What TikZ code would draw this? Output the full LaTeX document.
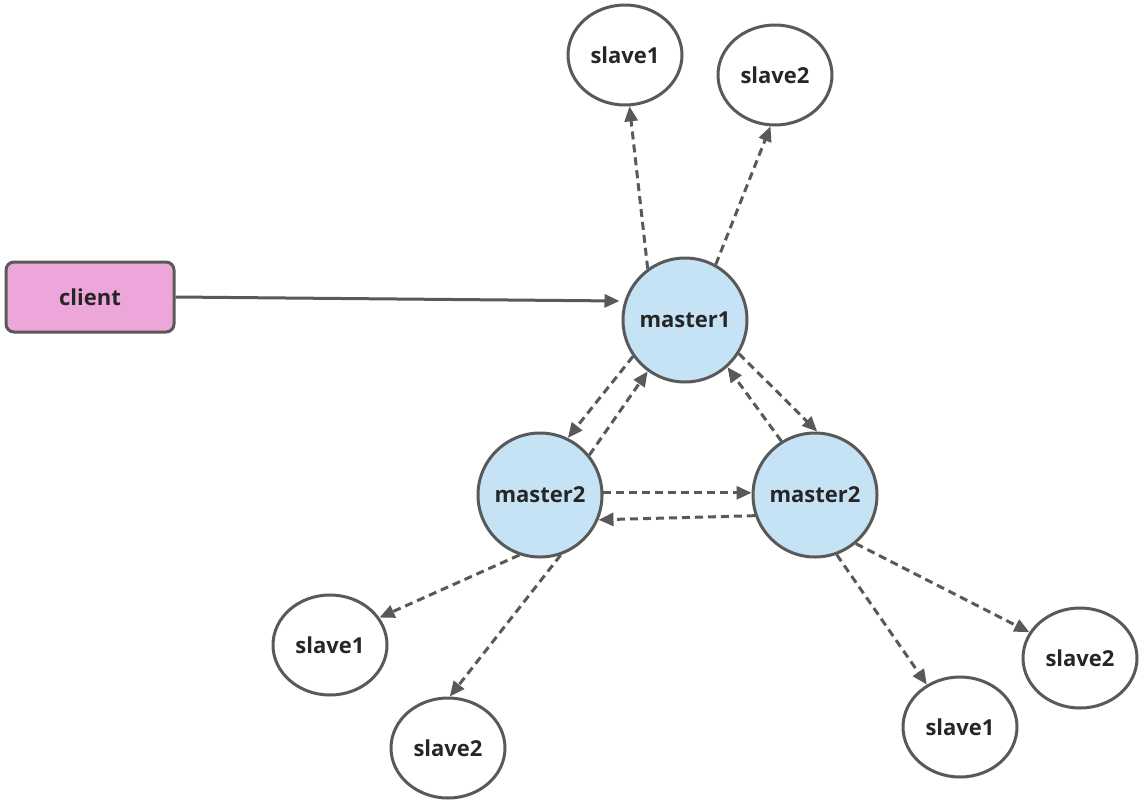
\documentclass[tikz,border=0pt]{standalone}
\usepackage{fontspec}
\setmainfont{Open Sans}
\usetikzlibrary{arrows.meta,shapes.geometric}
\definecolor{ln}{HTML}{595959}
\definecolor{pinkf}{HTML}{EDA6DA}
\definecolor{bluef}{HTML}{C6E3F5}
\begin{document}
\begin{tikzpicture}[x=1pt,y=-1pt,
  every node/.style={font=\fontsize{22}{26}\selectfont\bfseries, text=black!85},
  sl/.style={ellipse, draw=ln, line width=3pt, fill=white, minimum width=114pt, minimum height=100pt, inner sep=0pt},
  ms/.style={circle, draw=ln, line width=3pt, fill=bluef, minimum size=124pt, inner sep=0pt},
  da/.style={draw=ln, line width=3pt, dash pattern=on 8pt off 5pt, -{Triangle[length=15pt,width=13pt]}},
  so/.style={draw=ln, line width=3pt, -{Triangle[length=15pt,width=13pt]}}]
\useasboundingbox (0,0) rectangle (1141,804);
\node[sl] (s1t) at (625,55) {slave1};
\node[sl] (s2t) at (775,75) {slave2};
\node[draw=ln, line width=3pt, fill=pinkf, rounded corners=8pt, minimum width=168pt, minimum height=70pt] (cl) at (90,297) {client};
\node[ms] (m1) at (685,320) {master1};
\node[ms] (m2l) at (540,495) {master2};
\node[ms] (m2r) at (815,495) {master2};
\node[sl] (s1ll) at (330,645) {slave1};
\node[sl] (s2ll) at (448,748) {slave2};
\node[sl] (s1lr) at (960,727) {slave1};
\node[sl] (s2lr) at (1080,658) {slave2};
\draw[so] (cl.east) -- ([xshift=-2pt,yshift=19pt]m1.west);
\draw[da] (m1.126) -- (s1t.-85);
\draw[da] (m1.61) -- (s2t.-95);
\draw[da] (m1.215) -- (m2l.64);
\draw[da] (m2l.39) -- (m1.234);
\draw[da] (m1.-32) -- (m2r.88);
\draw[da] (m2r.122) -- (m1.-48);
\draw[da] (m2l.2) -- (m2r.178);
\draw[da] (m2r.199) -- (m2l.-23);
\draw[da] (m2l.-109) -- (s1ll.29);
\draw[da] (m2l.-71) -- (s2ll.88);
\draw[da] (m2r.-70) -- (s1lr.128);
\draw[da] (m2r.-50) -- (s2lr.153);
\end{tikzpicture}
\end{document}
